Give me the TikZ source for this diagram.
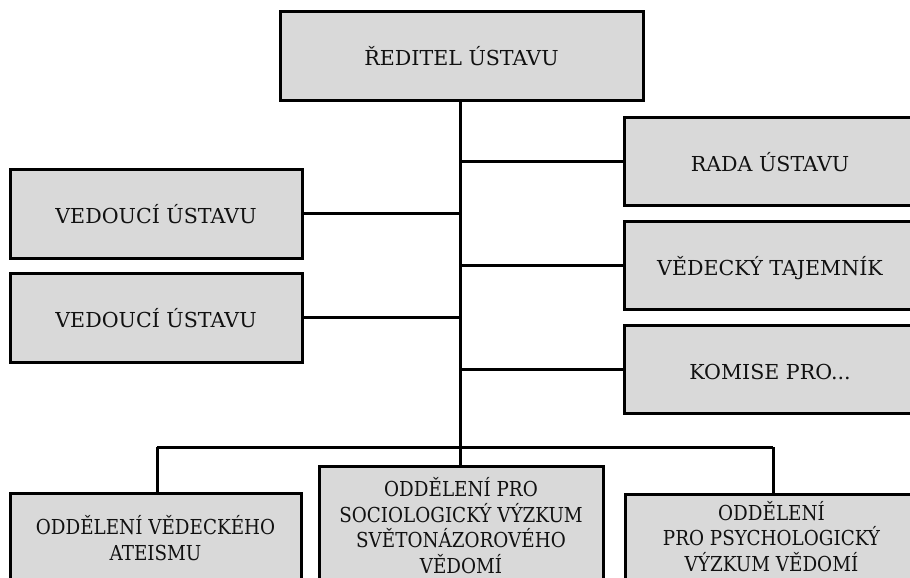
\documentclass[tikz,border=0pt]{standalone}
\usepackage{fontspec}
\setmainfont{DejaVu Serif}
\newfontfamily\condfont[FakeStretch=0.89]{DejaVu Serif}
\definecolor{boxgray}{HTML}{D9D9D9}
\definecolor{inkc}{HTML}{111111}
\begin{document}
\begin{tikzpicture}[x=1pt,y=-1pt,
  box/.style={draw=black, line width=3pt, fill=boxgray, rectangle, inner sep=0pt, outer sep=0pt,
    font=\fontsize{20.6}{25}\selectfont, text=inkc, text height=20pt, text depth=0pt},
  conn/.style={draw=black, line width=3pt},
  lbl/.style={font=\condfont\fontsize{20.6}{25.5}\selectfont, text=inkc, align=center, inner sep=0pt}]
\useasboundingbox (0,0) rectangle (910,578);
\clip (0,0) rectangle (910,578);
% junction coordinates
\coordinate (jl) at (157,447);
\coordinate (jr) at (773,447);
% boxes
\node[box, minimum width=363pt, minimum height=88pt] (top) at (461.5,56) {ŘEDITEL ÚSTAVU};
\node[box, minimum width=292pt, minimum height=89pt] (vu1) at (156,213.5) {VEDOUCÍ ÚSTAVU};
\node[box, minimum width=292pt, minimum height=89pt] (vu2) at (156,317.5) {VEDOUCÍ ÚSTAVU};
\node[box, minimum width=292pt, minimum height=88pt] (rada) at (770,161) {RADA ÚSTAVU};
\node[box, minimum width=292pt, minimum height=88pt] (vt) at (770,265) {VĚDECKÝ TAJEMNÍK};
\node[box, minimum width=292pt, minimum height=88pt] (kom) at (770,369) {KOMISE PRO...};
\node[box, minimum width=291pt, minimum height=120pt, anchor=north] (lb) at (155.5,493) {};
\node[box, minimum width=284pt, minimum height=140pt, anchor=north] (mb) at (461,466) {};
\node[box, minimum width=292pt, minimum height=120pt, anchor=north] (rb) at (771.5,494) {};
% connectors
\path[conn] (top.south -| 460,0) -- (mb.north -| 460,0);
\path[conn] (jl) -- (jr);
\path[conn] (jl) -- (jl |- lb.north);
\path[conn] (jr) -- (jr |- rb.north);
\path[conn] (rada.west) -- (rada.west -| 460,0);
\path[conn] (vt.west) -- (vt.west -| 460,0);
\path[conn] (kom.west) -- (kom.west -| 460,0);
\path[conn] (vu1.east) -- (vu1.east -| 460,0);
\path[conn] (vu2.east) -- (vu2.east -| 460,0);
% bottom labels
\node[lbl, anchor=base] (t1) at (155.5,560) {ODDĚLENÍ VĚDECKÉHO\\ATEISMU};
\node[lbl, anchor=base] (t2) at (461,573) {ODDĚLENÍ PRO\\SOCIOLOGICKÝ VÝZKUM\\SVĚTONÁZOROVÉHO\\VĚDOMÍ};
\node[lbl, anchor=base] (t3) at (771.5,571) {ODDĚLENÍ\\PRO PSYCHOLOGICKÝ\\VÝZKUM VĚDOMÍ};
\end{tikzpicture}
\end{document}
